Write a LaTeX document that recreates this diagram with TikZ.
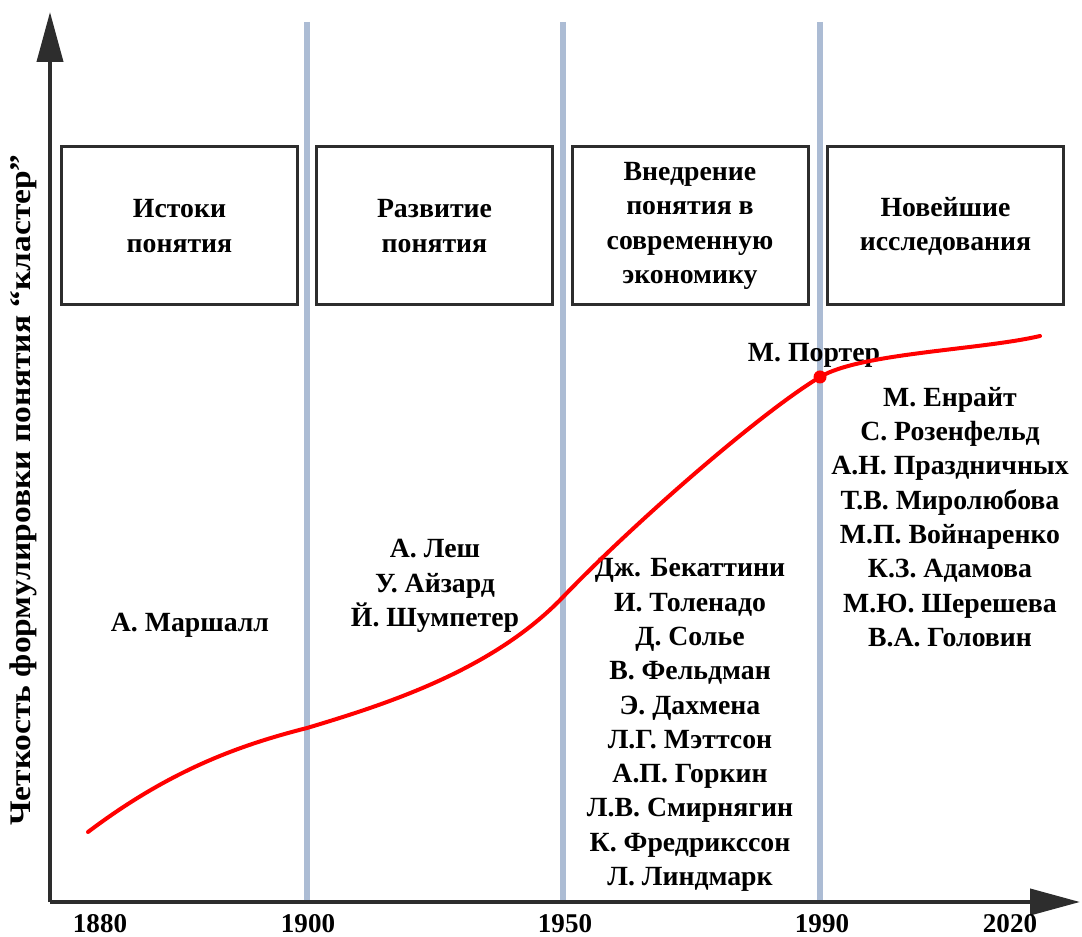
\documentclass[tikz,border=0pt]{standalone}
\usepackage{fontspec}
\setmainfont{Liberation Serif}
\usetikzlibrary{arrows.meta}

\definecolor{axiscol}{RGB}{45,45,45}
\definecolor{gridcol}{RGB}{172,188,212}

\tikzset{
  periodbox/.style={draw=axiscol, line width=0.6mm, minimum width=47.2mm,
    minimum height=31.6mm, align=center, inner sep=0pt,
    font=\fontsize{15.8}{19.5}\selectfont\bfseries},
  names/.style={align=center, inner sep=0pt,
    font=\fontsize{15.8}{19.5}\selectfont\bfseries},
  year/.style={inner sep=0pt, font=\fontsize{15.4}{17}\selectfont\bfseries},
  axis/.style={draw=axiscol, line width=0.8mm,
    -{Triangle[length=10mm,width=5.2mm]}},
  epoch/.style={draw=gridcol, line width=1.05mm},
}

\begin{document}
\begin{tikzpicture}[x=0.2mm, y=-0.2mm]

    \useasboundingbox (0,0) rectangle (1082,937);

    % Origine e assi
    \coordinate (O) at (50,902);
    \coordinate (ytop) at (50,12);
    \coordinate (xend) at (1080,902);

    % Linee delle epoche
    \foreach \x in {307,563,820}
      \draw[epoch] (\x,22) -- (\x,902);

    \draw[axis] (O) -- (ytop);
    \draw[axis] (O) -- (xend);

    % Riquadri dei periodi
    \node[periodbox] (origins) at (179.5,226) {Истоки\\понятия};
    \node[periodbox] (growth) at (434.5,226) {Развитие\\понятия};
    \node[periodbox] (modern) at (690,226) {Внедрение\\понятия в\\современную\\экономику};
    \node[periodbox] (recent) at (945.5,226) {Новейшие\\исследования};

    % Autori
    \node[names] (marshall) at (190,625) {А. Маршалл};
    \node[names] (lesh) at (435,586) {А. Леш\\У. Айзард\\Й. Шумпетер};
    \node[names] (becattini) at (690,725) {Дж. Бекаттини\\И. Толенадо\\Д. Солье\\В. Фельдман\\Э. Дахмена\\Л.Г. Мэттсон\\А.П. Горкин\\Л.В. Смирнягин\\К. Фредрикссон\\Л. Линдмарк};
    \node[names] (porter) at (814,355) {М. Портер};
    \node[names] (enright) at (950,517) {М. Енрайт\\С. Розенфельд\\А.Н. Праздничных\\Т.В. Миролюбова\\М.П. Войнаренко\\К.З. Адамова\\М.Ю. Шерешева\\В.А. Головин};

    % Curva
    \coordinate (porterpt) at (820,377);
    \draw[red, line width=0.8mm, line cap=round]
      (88,832) .. controls (170,770) and (240,745) .. (307,728)
      .. controls (387,704) and (493,670) .. (563,597)
      .. controls (633,524) and (760,413) .. (porterpt)
      .. controls (860,353) and (980,350) .. (1040,336);
    \fill[red] (porterpt) circle (1.3mm);

    % Anni
    \node[year] (y1880) at (100,924) {1880};
    \node[year] (y1900) at (308,924) {1900};
    \node[year] (y1950) at (565,924) {1950};
    \node[year] (y1990) at (822,924) {1990};
    \node[year] (y2020) at (1010,924) {2020};

    % Etichetta asse y
    \node[rotate=90, inner sep=0pt, font=\fontsize{17}{19}\selectfont\bfseries] (ylabel) at (23,490)
      {\scalebox{1.12}[1]{Четкость формулировки понятия “кластер”}};

\end{tikzpicture}
\end{document}
